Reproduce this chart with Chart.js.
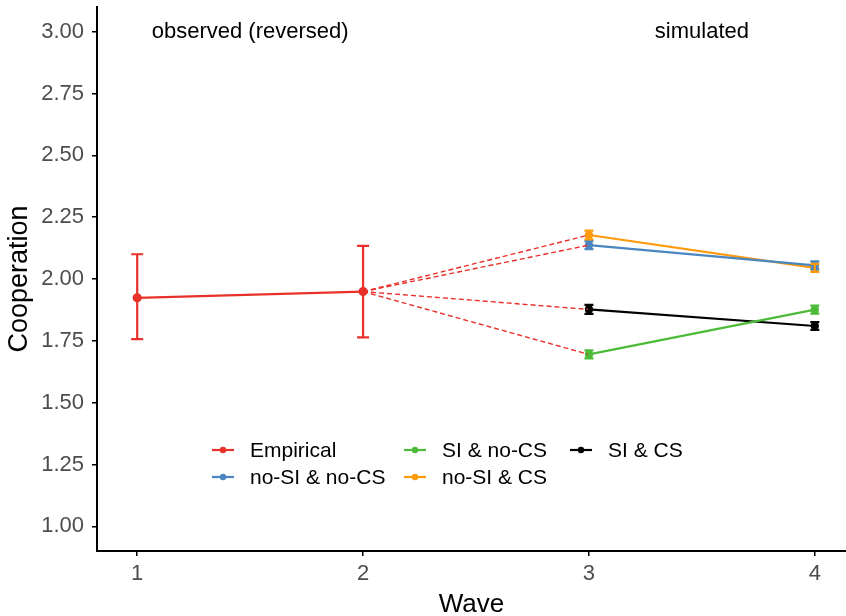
<!DOCTYPE html>
<html>
<head>
<meta charset="utf-8">
<script src="https://cdn.jsdelivr.net/npm/chart.js@4"></script>
<style>
  html, body { margin: 0; padding: 0; background: #fff; }
  #wrap { width: 846px; height: 616px; }
</style>
</head>
<body>
<div id="wrap"><canvas id="coopChart" width="846" height="616"></canvas></div>
<script>
// Data
const waves = [1, 2, 3, 4];
const yTicks = [1.00, 1.25, 1.50, 1.75, 2.00, 2.25, 2.50, 2.75, 3.00];

const empiricalWaves = [1, 2];
const empiricalMean = [1.924, 1.949];
const empiricalLow = [1.757, 1.764];
const empiricalHigh = [2.100, 2.134];

const simWaves = [3, 4];
const noSInoCS = [2.137, 2.055];
const noSInoCSErr = [0.016, 0.016];
const SInoCS = [1.695, 1.876];
const SInoCSErr = [0.016, 0.016];
const noSICS = [2.178, 2.045];
const noSICSErr = [0.018, 0.016];
const SICS = [1.877, 1.810];
const SICSErr = [0.018, 0.016];

const annotations = [
  { label: 'observed (reversed)', wave: 1.5, value: 3.0 },
  { label: 'simulated', wave: 3.5, value: 3.0 }
];

const RED = '#E8312A', BLUE = '#4A86C0', GREEN = '#4DBB3A', ORANGE = '#FF9A0A', BLACK = '#000000';
const FONT = 'Arial, "Liberation Sans", sans-serif';

function pts(xs, ys) { return xs.map((x, i) => ({ x, y: ys[i] })); }

function seriesSet(label, ys, err, color) {
  return {
    label, data: pts(simWaves, ys),
    lowers: ys.map((v, i) => v - err[i]), uppers: ys.map((v, i) => v + err[i]),
    capWidth: 9,
    borderColor: color, backgroundColor: color, borderWidth: 2.2,
    pointRadius: 3, pointHoverRadius: 3, showLine: true, tension: 0
  };
}

function connector(ys, i) {
  return {
    label: '_conn' + i,
    data: [{ x: 2, y: empiricalMean[1] }, { x: 3, y: ys[0] }],
    borderColor: RED, borderWidth: 1.4, borderDash: [5, 3],
    pointRadius: 0, showLine: true, tension: 0
  };
}

const datasets = [
  connector(noSInoCS, 1), connector(SInoCS, 2), connector(noSICS, 3), connector(SICS, 4),
  {
    label: 'Empirical', data: pts(empiricalWaves, empiricalMean),
    lowers: empiricalLow, uppers: empiricalHigh, capWidth: 12,
    borderColor: RED, backgroundColor: RED, borderWidth: 2.2,
    pointRadius: 3.5, pointHoverRadius: 3.5, showLine: true, tension: 0
  },
  seriesSet('no-SI & no-CS', noSInoCS, noSInoCSErr, BLUE),
  seriesSet('SI & no-CS', SInoCS, SInoCSErr, GREEN),
  seriesSet('no-SI & CS', noSICS, noSICSErr, ORANGE),
  seriesSet('SI & CS', SICS, SICSErr, BLACK)
];

// Legend layout (column-major, as in the figure)
const legendItems = [
  { label: 'Empirical', color: RED, x: 212, y: 450 },
  { label: 'no-SI & no-CS', color: BLUE, x: 212, y: 477 },
  { label: 'SI & no-CS', color: GREEN, x: 404, y: 450 },
  { label: 'no-SI & CS', color: ORANGE, x: 404, y: 477 },
  { label: 'SI & CS', color: BLACK, x: 570, y: 450 }
];

const errorBars = {
  id: 'errorBars',
  afterDatasetsDraw(chart) {
    const { ctx, scales: { x, y } } = chart;
    chart.data.datasets.forEach(ds => {
      if (!ds.lowers) return;
      ctx.save();
      ctx.strokeStyle = ds.borderColor;
      ctx.lineWidth = 2.2;
      ds.data.forEach((p, i) => {
        const px = x.getPixelForValue(p.x);
        const lo = y.getPixelForValue(ds.lowers[i]);
        const hi = y.getPixelForValue(ds.uppers[i]);
        const w = ds.capWidth / 2;
        ctx.beginPath();
        ctx.moveTo(px, lo); ctx.lineTo(px, hi);
        ctx.moveTo(px - w, lo); ctx.lineTo(px + w, lo);
        ctx.moveTo(px - w, hi); ctx.lineTo(px + w, hi);
        ctx.stroke();
      });
      ctx.restore();
    });
  }
};

const textAndLegend = {
  id: 'textAndLegend',
  afterDraw(chart) {
    const { ctx, scales: { x, y } } = chart;
    ctx.save();
    ctx.font = '22px ' + FONT;
    ctx.fillStyle = '#000';
    ctx.textAlign = 'center';
    ctx.textBaseline = 'middle';
    annotations.forEach(a => {
      ctx.fillText(a.label, x.getPixelForValue(a.wave), y.getPixelForValue(a.value));
    });
    ctx.font = '21px ' + FONT;
    ctx.textAlign = 'left';
    legendItems.forEach(it => {
      ctx.strokeStyle = it.color;
      ctx.fillStyle = it.color;
      ctx.lineWidth = 2.2;
      ctx.beginPath();
      ctx.moveTo(it.x, it.y); ctx.lineTo(it.x + 22, it.y);
      ctx.stroke();
      ctx.beginPath();
      ctx.arc(it.x + 11, it.y, 3.2, 0, Math.PI * 2);
      ctx.fill();
      ctx.fillStyle = '#000';
      ctx.fillText(it.label, it.x + 38, it.y + 1);
    });
    ctx.restore();
  }
};

new Chart(document.getElementById('coopChart').getContext('2d'), {
  type: 'scatter',
  data: { datasets },
  options: {
    responsive: false,
    animation: false,
    layout: { autoPadding: false, padding: { top: 7, right: 0, left: 0, bottom: 0 } },
    plugins: {
      legend: { display: false },
      tooltip: { enabled: false }
    },
    scales: {
      x: {
        type: 'linear',
        min: 0.822,
        max: 4.138,
        afterBuildTicks: scale => { scale.ticks = waves.map(v => ({ value: v })); },
        afterFit: scale => {
          scale.height = 65;
          scale.paddingLeft = 0;
          scale.paddingRight = 0;
        },
        grid: { drawOnChartArea: false, drawTicks: true, tickLength: 5, color: '#000', lineWidth: 1.5 },
        border: { display: true, color: '#000', width: 2 },
        ticks: { color: '#4D4D4D', font: { size: 22, family: FONT }, padding: 5, callback: v => String(v) },
        title: { display: true, text: 'Wave', color: '#000', font: { size: 26, family: FONT, lineHeight: 1 }, padding: { top: 0, bottom: -2 } }
      },
      y: {
        type: 'linear',
        min: 0.9,
        max: 3.1,
        afterBuildTicks: scale => { scale.ticks = yTicks.map(v => ({ value: v })); },
        afterFit: scale => {
          scale.width = 97;
          scale.paddingTop = 0;
          scale.paddingBottom = 0;
        },
        grid: { drawOnChartArea: false, drawTicks: true, tickLength: 5, color: '#000', lineWidth: 1.5 },
        border: { display: true, color: '#000', width: 2 },
        ticks: { color: '#4D4D4D', font: { size: 22, family: FONT }, padding: 8, callback: v => v.toFixed(2) },
        title: { display: true, text: 'Cooperation', color: '#000', font: { size: 27, family: FONT, lineHeight: 1 }, padding: { top: 6, bottom: 0 } }
      }
    }
  },
  plugins: [errorBars, textAndLegend]
});
</script>
</body>
</html>
